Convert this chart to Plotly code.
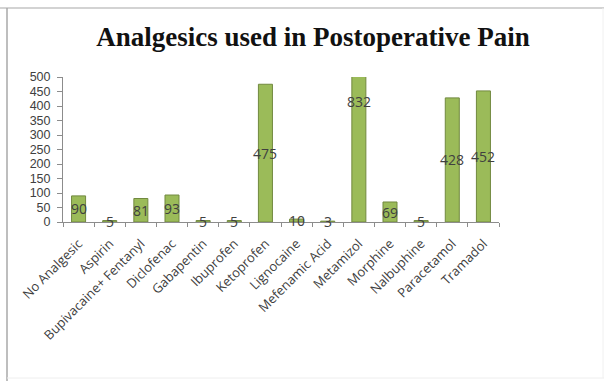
import plotly.graph_objects as go

categories = ["No Analgesic", "Aspirin", "Bupivacaine+ Fentanyl", "Diclofenac", "Gabapentin",
              "Ibuprofen", "Ketoprofen", "Lignocaine", "Mefenamic Acid", "Metamizol",
              "Morphine", "Nalbuphine", "Paracetamol", "Tramadol"]
values = [90, 5, 81, 93, 5, 5, 475, 10, 3, 832, 69, 5, 428, 452]
y_ticks = [0, 50, 100, 150, 200, 250, 300, 350, 400, 450, 500]

W, H = 604, 381
L, R, T, B = 63, 105, 77, 159

fig = go.Figure()
fig.add_trace(go.Bar(
    x=categories, y=values, width=0.45,
    marker=dict(color="#9BBB59", line=dict(color="#71893F", width=1)),
    hoverinfo="skip",
))

for c, v in zip(categories, values):
    fig.add_annotation(x=c, y=v / 2, text=str(v), showarrow=False,
                       font=dict(family="Open Sans, Liberation Sans, sans-serif", size=14, color="#404040"),
                       xanchor="center", yanchor="middle")

pw = W - L - R
ph = H - T - B
def px2x(px):
    return (px - L) / pw
def py2y(py):
    return (H - B - py) / ph

shapes = [
    dict(type="line", xref="paper", yref="paper", x0=px2x(0), x1=px2x(604), y0=py2y(8), y1=py2y(8),
         line=dict(color="#c4c4c4", width=1.5)),
    dict(type="line", xref="paper", yref="paper", x0=px2x(7), x1=px2x(7), y0=py2y(8), y1=py2y(381),
         line=dict(color="#a8a8a8", width=1.5)),
    dict(type="line", xref="paper", yref="paper", x0=px2x(7), x1=px2x(604), y0=py2y(378), y1=py2y(378),
         line=dict(color="#eeeeee", width=1)),
    dict(type="line", xref="paper", yref="paper", x0=px2x(603), x1=px2x(603), y0=py2y(8), y1=py2y(378),
         line=dict(color="#f0f0f0", width=1)),
]

fig.update_layout(
    width=W, height=H,
    margin=dict(l=L, r=R, t=T, b=B, autoexpand=False),
    paper_bgcolor="white", plot_bgcolor="white",
    showlegend=False,
    title=dict(text="<b>Analgesics used in Postoperative Pain</b>",
               font=dict(family="Liberation Serif, Times New Roman, serif", size=27, color="#111111"),
               x=313 / W, xref="container", xanchor="center",
               y=1 - 37 / H, yref="container", yanchor="middle"),
    shapes=shapes,
    xaxis=dict(
        showline=True, linecolor="#8c8c8c", linewidth=1,
        ticks="outside", tickson="boundaries", ticklen=4, tickcolor="#8c8c8c",
        tickangle=-45, ticklabelstandoff=8,
        tickfont=dict(family="Open Sans, Liberation Sans, sans-serif", size=13, color="#404040"),
        showgrid=False, zeroline=False,
    ),
    yaxis=dict(
        range=[0, 500], tickvals=y_ticks, ticktext=[str(t) for t in y_ticks],
        showline=True, linecolor="#8c8c8c", linewidth=1,
        ticks="outside", ticklen=5, tickcolor="#8c8c8c", ticklabelstandoff=4,
        tickfont=dict(family="Liberation Sans, Arial, sans-serif", size=12.5, color="#404040"),
        showgrid=False, zeroline=False,
    ),
)

fig.write_html("out.html")
